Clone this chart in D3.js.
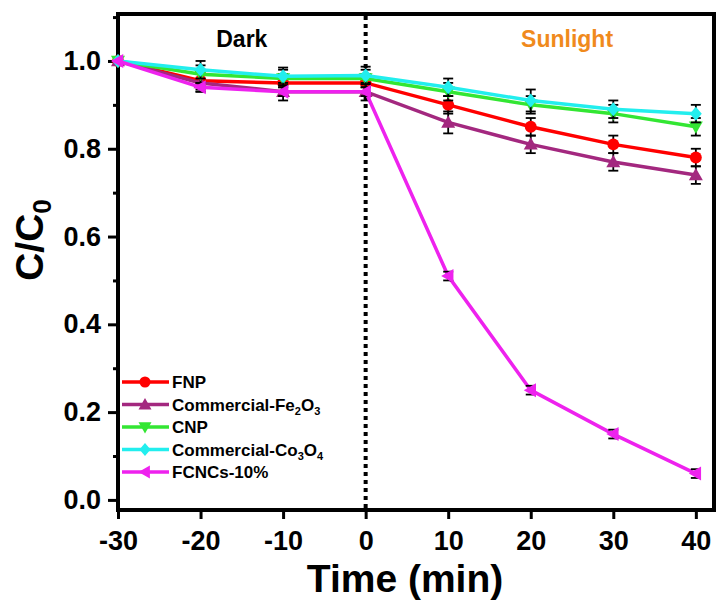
<!DOCTYPE html>
<html>
<head>
<meta charset="utf-8">
<script src="https://cdn.jsdelivr.net/npm/d3@7"></script>
<style>
  body { margin: 0; background: #fff; }
  svg { font-family: 'Liberation Sans', Arial, sans-serif; font-weight: bold; }
</style>
</head>
<body>
<div id="chart"></div>
<script>
const times = [-30, -20, -10, 0, 10, 20, 30, 40];
const xTicks = [-30, -20, -10, 0, 10, 20, 30, 40];
const yTicks = [0.0, 0.2, 0.4, 0.6, 0.8, 1.0];

const fnp = [1.0, 0.955, 0.95, 0.95, 0.90, 0.85, 0.81, 0.78];
const fnpErr = [0, 0.02, 0.02, 0.02, 0.02, 0.02, 0.02, 0.02];
const fe2o3 = [1.0, 0.95, 0.93, 0.93, 0.86, 0.81, 0.77, 0.74];
const fe2o3Err = [0, 0.02, 0.02, 0.02, 0.025, 0.02, 0.02, 0.02];
const cnp = [1.0, 0.97, 0.96, 0.96, 0.93, 0.90, 0.88, 0.85];
const cnpErr = [0, 0.02, 0.02, 0.02, 0.02, 0.02, 0.02, 0.02];
const co3o4 = [1.0, 0.98, 0.965, 0.967, 0.94, 0.91, 0.89, 0.88];
const co3o4Err = [0, 0.02, 0.02, 0.02, 0.02, 0.025, 0.02, 0.02];
const fcncs = [1.0, 0.94, 0.93, 0.93, 0.51, 0.25, 0.15, 0.06];
const fcncsErr = [0, 0.01, 0.01, 0.01, 0.01, 0.01, 0.01, 0.01];

const series = [
  { name: 'FNP', sub: null, values: fnp, err: fnpErr, color: '#ff0000', shape: 'circle' },
  { name: 'Commercial-Fe', sub: [['2', 'O'], ['3', '']], values: fe2o3, err: fe2o3Err, color: '#a3287f', shape: 'up' },
  { name: 'CNP', sub: null, values: cnp, err: cnpErr, color: '#33e633', shape: 'down' },
  { name: 'Commercial-Co', sub: [['3', 'O'], ['4', '']], values: co3o4, err: co3o4Err, color: '#22eeee', shape: 'diamond' },
  { name: 'FCNCs-10%', sub: null, values: fcncs, err: fcncsErr, color: '#ee22ee', shape: 'left' }
];

const W = 719, H = 601;
const margin = { top: 14, right: 5, bottom: 91, left: 118 };
const width = W - margin.left - margin.right;
const height = H - margin.top - margin.bottom;

const svg = d3.select('#chart').append('svg')
  .attr('width', W).attr('height', H);
const g = svg.append('g').attr('transform', `translate(${margin.left},${margin.top})`);

const x = d3.scaleLinear().domain([-30, 42.2]).range([0, width]);
const y = d3.scaleLinear().domain([-0.023, 1.107]).range([height, 0]);

// axes
const xAxis = g.append('g').attr('transform', `translate(0,${height})`)
  .call(d3.axisBottom(x).tickValues(xTicks).tickSize(9).tickPadding(12).tickFormat(d => String(d)));
const yAxis = g.append('g')
  .call(d3.axisLeft(y).tickValues(yTicks).tickSize(10).tickPadding(7).tickFormat(d3.format('.1f')));
g.append('g')
  .call(d3.axisLeft(y).tickValues([0.1, 0.3, 0.5, 0.7, 0.9, 1.1]).tickSize(5).tickFormat(''))
  .select('.domain').remove();

[xAxis, yAxis].forEach(a => {
  a.select('.domain').remove();
  a.selectAll('text').attr('fill', '#000').style('font-size', '27px').style('font-weight', 'bold');
});
g.selectAll('.tick line').attr('stroke', '#000').attr('stroke-width', 3);

// frame
g.append('rect').attr('x', 0).attr('y', 0).attr('width', width).attr('height', height)
  .attr('fill', 'none').attr('stroke', '#000').attr('stroke-width', 4);

// dotted divider
g.append('line')
  .attr('x1', x(0)).attr('x2', x(0)).attr('y1', 2).attr('y2', height - 2)
  .attr('stroke', '#000').attr('stroke-width', 4).attr('stroke-dasharray', '4,4');

g.append('text').attr('x', x(-15)).attr('y', 33).attr('text-anchor', 'middle')
  .style('font-size', '23px').attr('fill', '#000').text('Dark');
g.append('text').attr('x', x(24.4)).attr('y', 33).attr('text-anchor', 'middle')
  .style('font-size', '23px').attr('fill', '#f08a1c').text('Sunlight');

function marker(sel, shape, color, s) {
  if (shape === 'circle') {
    sel.append('circle').attr('r', s * 0.85).attr('fill', color);
    return;
  }
  let pts;
  if (shape === 'up') pts = [[0, -s], [s, s * 0.75], [-s, s * 0.75]];
  else if (shape === 'down') pts = [[0, s], [s, -s * 0.75], [-s, -s * 0.75]];
  else if (shape === 'left') pts = [[-s, 0], [s * 0.75, -s], [s * 0.75, s]];
  else pts = [[0, -s], [s * 0.85, 0], [0, s], [-s * 0.85, 0]];
  sel.append('polygon').attr('points', pts.map(p => p.join(',')).join(' ')).attr('fill', color);
}

const line = d3.line().x((d, i) => x(times[i])).y(d => y(d));

series.forEach(s => {
  const grp = g.append('g');
  grp.append('path').datum(s.values).attr('d', line)
    .attr('fill', 'none').attr('stroke', s.color).attr('stroke-width', 3.5);
  s.values.forEach((v, i) => {
    const e = s.err[i];
    if (e > 0) {
      const eb = grp.append('g').attr('stroke', '#000').attr('stroke-width', 1.8);
      eb.append('line').attr('x1', x(times[i])).attr('x2', x(times[i])).attr('y1', y(v - e)).attr('y2', y(v + e));
      eb.append('line').attr('x1', x(times[i]) - 5).attr('x2', x(times[i]) + 5).attr('y1', y(v - e)).attr('y2', y(v - e));
      eb.append('line').attr('x1', x(times[i]) - 5).attr('x2', x(times[i]) + 5).attr('y1', y(v + e)).attr('y2', y(v + e));
    }
    const m = grp.append('g').attr('transform', `translate(${x(times[i])},${y(v)})`);
    marker(m, s.shape, s.color, 7);
  });
});

// legend
const legend = g.append('g').attr('transform', 'translate(4,368)');
series.forEach((s, i) => {
  const row = legend.append('g').attr('transform', `translate(0,${i * 22.5})`);
  row.append('line').attr('x1', 0).attr('x2', 47).attr('y1', 0).attr('y2', 0)
    .attr('stroke', s.color).attr('stroke-width', 3.5);
  const m = row.append('g').attr('transform', 'translate(23,0)');
  marker(m, s.shape, s.color, 6.5);
  const t = row.append('text').attr('x', 50).attr('y', 6).style('font-size', '17px').attr('fill', '#000');
  t.append('tspan').text(s.name);
  if (s.sub) {
    s.sub.forEach(([sb, after]) => {
      t.append('tspan').attr('dy', 4).style('font-size', '11px').text(sb);
      if (after) t.append('tspan').attr('dy', -4).text(after);
    });
  }
});

// axis titles
svg.append('text').attr('x', 405).attr('y', 592).attr('text-anchor', 'middle')
  .style('font-size', '39px').attr('fill', '#000').text('Time (min)');
const yl = svg.append('text').attr('transform', 'translate(43,240) rotate(-90)')
  .attr('text-anchor', 'middle').style('font-size', '39px').attr('fill', '#000');
yl.append('tspan').text('C/C');
yl.append('tspan').attr('dy', 8).style('font-size', '26px').text('0');
</script>
</body>
</html>
